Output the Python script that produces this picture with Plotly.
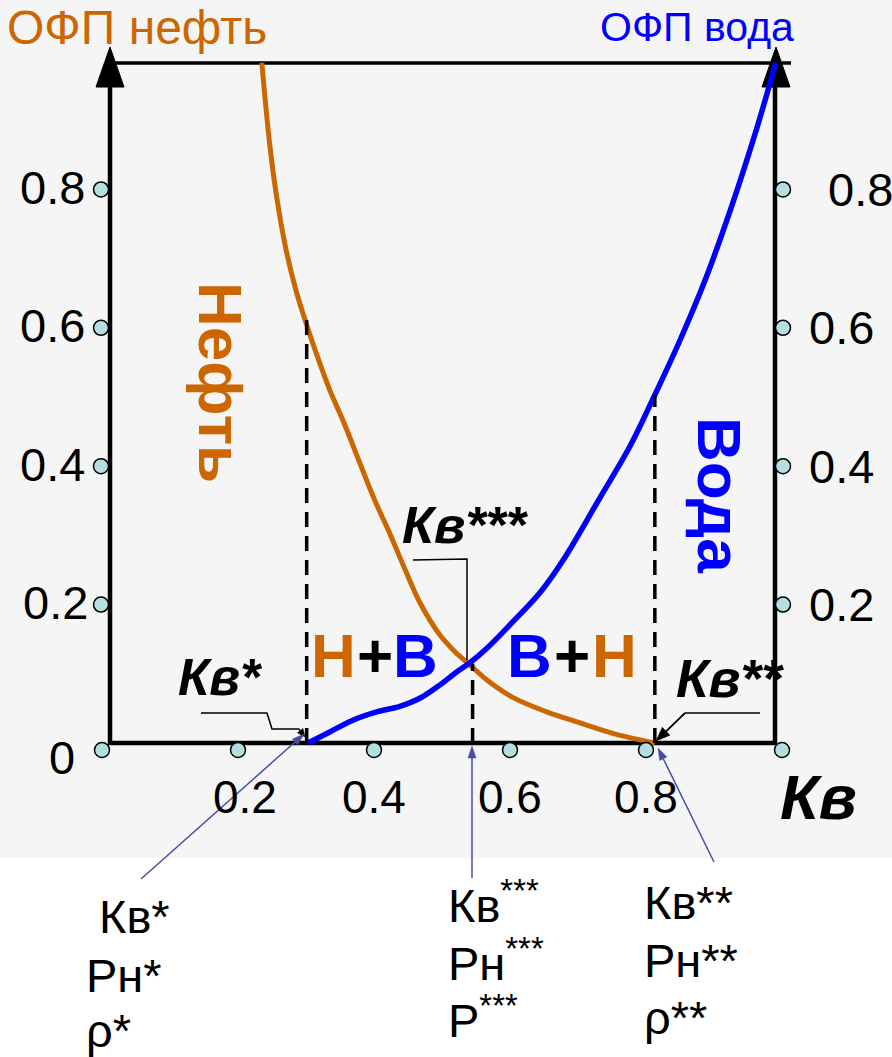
import math
import numpy as np
import plotly.graph_objects as go

W, H = 892, 1057
FONT = "Liberation Sans, Arial, sans-serif"
ORANGE = "#CC6600"
BLUE = "#0000FF"
ARROW = "#4B4BA6"
DOT = "#B4DEDF"

# ---- data -------------------------------------------------------------
# relative permeability of oil vs water saturation
kw_oil = [0.235, 0.240, 0.247, 0.257, 0.270, 0.285, 0.301, 0.318, 0.335, 0.357,
          0.379, 0.401, 0.424, 0.446, 0.468, 0.497, 0.519, 0.541, 0.566, 0.604,
          0.654, 0.703, 0.751, 0.813]
kr_oil = [0.983, 0.929, 0.862, 0.788, 0.716, 0.655, 0.604, 0.555, 0.510, 0.460,
          0.405, 0.351, 0.301, 0.250, 0.202, 0.156, 0.132, 0.113, 0.091, 0.066,
          0.045, 0.029, 0.014, 0.0]
# relative permeability of water vs water saturation
kw_water = [0.303, 0.335, 0.369, 0.404, 0.438, 0.468, 0.497, 0.522, 0.541, 0.566,
            0.604, 0.644, 0.678, 0.732, 0.776, 0.813, 0.850, 0.887, 0.924, 0.960,
            0.991]
kr_water = [0.0, 0.016, 0.033, 0.045, 0.053, 0.065, 0.084, 0.103, 0.116, 0.137,
            0.175, 0.217, 0.264, 0.354, 0.428, 0.503, 0.582, 0.669, 0.770, 0.879,
            0.983]

# characteristic saturations
kw_star = 0.301      # Кв*
kw_cross = 0.545     # Кв***
kw_2star = 0.813     # Кв**

y_ticks = [0.2, 0.4, 0.6, 0.8]
y_tick_labels = ["0.2", "0.4", "0.6", "0.8"]
x_ticks = [0.0, 0.2, 0.4, 0.6, 0.8, 1.0]
x_tick_labels = ["0.2", "0.4", "0.6", "0.8"]

# ---- pixel <-> data helpers for decorations ---------------------------
X0, XS = 102.0, 680.0   # px of Кв=0, px per unit
Y0, YS = 743.0, 692.0   # px of ОФП=0, px per unit


def kx(px):
    return (px - X0) / XS


def vy(py):
    return (Y0 - py) / YS


fig = go.Figure()

# curves
fig.add_trace(go.Scatter(x=kw_oil, y=kr_oil, mode="lines",
                         line=dict(color=ORANGE, width=5, shape="spline", smoothing=1.0),
                         hoverinfo="skip"))
fig.add_trace(go.Scatter(x=kw_water, y=kr_water, mode="lines",
                         line=dict(color=BLUE, width=5.5, shape="spline", smoothing=1.0),
                         hoverinfo="skip"))

# tick dots: left, right, bottom
dot_marker = dict(size=15, color=DOT, line=dict(color="black", width=1.5))
fig.add_trace(go.Scatter(x=[kx(101)] * len(y_ticks), y=y_ticks, mode="markers",
                         marker=dot_marker, hoverinfo="skip"))
fig.add_trace(go.Scatter(x=[kx(783)] * len(y_ticks), y=y_ticks, mode="markers",
                         marker=dot_marker, hoverinfo="skip"))
fig.add_trace(go.Scatter(x=x_ticks, y=[vy(750)] * len(x_ticks), mode="markers",
                         marker=dot_marker, hoverinfo="skip"))

shapes = []
# background panel
shapes.append(dict(type="rect", xref="paper", yref="paper", x0=0, x1=1,
                   y0=1 - 858 / H, y1=1, fillcolor="#F5F5F5", line=dict(width=0),
                   layer="below"))
# frame lines
axis = dict(color="black", width=4.5)
shapes.append(dict(type="line", x0=kx(110), x1=kx(110), y0=vy(745), y1=vy(80), line=axis, layer="below"))
shapes.append(dict(type="line", x0=kx(775), x1=kx(775), y0=vy(745), y1=vy(80), line=axis, layer="below"))
shapes.append(dict(type="line", x0=kx(108), x1=kx(777), y0=0, y1=0, line=axis, layer="below"))
shapes.append(dict(type="line", x0=kx(113), x1=kx(791), y0=vy(63), y1=vy(63),
                   line=dict(color="black", width=3.5), layer="below"))


def tri(cx):
    return (f"M {kx(cx)} {vy(47)} L {kx(cx - 14)} {vy(87)} "
            f"L {kx(cx + 14)} {vy(87)} Z")


for cx in (110, 776):
    shapes.append(dict(type="path", path=tri(cx), fillcolor="black",
                       line=dict(color="black", width=1), layer="below"))

# dashed verticals at the characteristic saturations
dash = dict(color="black", width=3.5, dash="15px,9px")
y_star = float(np.interp(kw_star, kw_oil, kr_oil))
y_cross = float(np.interp(kw_cross, kw_water, kr_water))
y_2star = float(np.interp(kw_2star, kw_water, kr_water))
shapes.append(dict(type="line", x0=kw_star, x1=kw_star, y0=0, y1=y_star + 0.01, line=dash))
shapes.append(dict(type="line", x0=kw_cross, x1=kw_cross, y0=0, y1=y_cross - 0.005, line=dash))
shapes.append(dict(type="line", x0=kw_2star, x1=kw_2star, y0=0, y1=y_2star, line=dash))

# leader lines for the italic labels
thin = dict(color="black", width=1.5)
shapes.append(dict(type="path",
                   path=f"M {kx(201)} {vy(713)} L {kx(267)} {vy(713)} "
                        f"L {kx(272)} {vy(729)} L {kx(299)} {vy(729)}",
                   line=thin))
shapes.append(dict(type="path",
                   path=f"M {kx(413)} {vy(560)} L {kx(467)} {vy(559)} L {kx(467)} {vy(660)}",
                   line=thin))
shapes.append(dict(type="line", x0=kx(760), x1=kx(685), y0=vy(713), y1=vy(713), line=thin))


def arrow(hx, hy, tx, ty, color, width=1.5, head_len=12, head_w=9):
    """Straight pointer from (tx, ty) to (hx, hy) in pixels, with a filled head."""
    dx, dy = hx - tx, hy - ty
    L = math.hypot(dx, dy)
    ux, uy = dx / L, dy / L
    bx, by = hx - ux * head_len, hy - uy * head_len
    px, py = -uy * head_w / 2, ux * head_w / 2
    shapes.append(dict(type="line", x0=kx(tx), y0=vy(ty), x1=kx(bx), y1=vy(by),
                       line=dict(color=color, width=width)))
    shapes.append(dict(type="path",
                       path=f"M {kx(hx)} {vy(hy)} L {kx(bx + px)} {vy(by + py)} "
                            f"L {kx(bx - px)} {vy(by - py)} Z",
                       fillcolor=color, line=dict(color=color, width=0.5)))


arrow(305, 737, 299, 729, "black", 1.5, 8, 7)
arrow(656, 741, 685, 713, "black", 1.8, 14, 11)
arrow(304, 734, 141, 879, ARROW, 1.5, 12, 8)
arrow(472, 746, 472, 878, ARROW, 1.5, 12, 8)
arrow(658, 748, 714, 862, ARROW, 1.5, 12, 8)

fig.update_layout(shapes=shapes)


def text(px, py, s, size, color="black", angle=0, xanchor="center"):
    fig.add_annotation(x=px / W, y=1 - py / H, xref="paper", yref="paper", text=s,
                       showarrow=False, textangle=angle, xanchor=xanchor, yanchor="middle",
                       font=dict(family=FONT, size=size, color=color))


# titles
text(137, 27, "ОФП нефть", 48, ORANGE)
text(697, 27, "ОФП вода", 41, BLUE)

# tick labels
for v, lab in zip([0.8, 0.6, 0.4, 0.2], ["0.8", "0.6", "0.4", "0.2"]):
    py = Y0 - v * YS
    text(87 if lab != "0.2" else 90, py - 2, lab, 47, xanchor="right")
    text(807 if lab != "0.8" else 826, py, lab, 47, xanchor="left")
text(62, 757, "0", 47)
for v, lab in zip([0.2, 0.4, 0.6, 0.8], x_tick_labels):
    text(X0 + v * XS + (7 if lab == "0.2" else 0), 797, lab, 46)

# axis label
text(818, 797, "<b><i>Кв</i></b>", 63)

# phase labels
text(220, 382, "<b>Нефть</b>", 62, ORANGE, angle=90)
text(720, 495, "<b>Вода</b>", 62, BLUE, angle=90)
# two-phase zones: Н+В and В+Н
text(333, 655, "<b>Н</b>", 62, ORANGE)
text(375, 655, "<b>+</b>", 62)
text(415, 655, "<b>В</b>", 62, BLUE)
text(529, 655, "<b>В</b>", 62, BLUE)
text(572, 655, "<b>+</b>", 62)
text(614, 655, "<b>Н</b>", 62, ORANGE)

# italic markers
text(220, 677, "<b><i>Кв*</i></b>", 51)
text(466, 525, "<b><i>Кв***</i></b>", 52)
text(730, 678, "<b><i>Кв**</i></b>", 53)

# lists of parameters under the chart
text(97, 916, "Кв*", 47, xanchor="left")
text(84, 975, "Рн*", 47, xanchor="left")
text(84, 1030, "ρ*", 47, xanchor="left")
text(446, 902, "Кв<sup>***</sup>", 47, xanchor="left")
text(446, 960, "Рн<sup>***</sup>", 47, xanchor="left")
text(446, 1017, "Р<sup>***</sup>", 47, xanchor="left")
text(642, 902, "Кв**", 47, xanchor="left")
text(642, 960, "Рн**", 47, xanchor="left")
text(642, 1017, "ρ**", 47, xanchor="left")

fig.update_layout(
    width=W, height=H, autosize=False,
    margin=dict(l=0, r=0, t=0, b=0, pad=0),
    paper_bgcolor="white", plot_bgcolor="rgba(0,0,0,0)",
    showlegend=False,
    xaxis=dict(visible=False, range=[kx(0), kx(W)], fixedrange=True),
    yaxis=dict(visible=False, range=[vy(H), vy(0)], fixedrange=True),
)

fig.write_html("out.html")
